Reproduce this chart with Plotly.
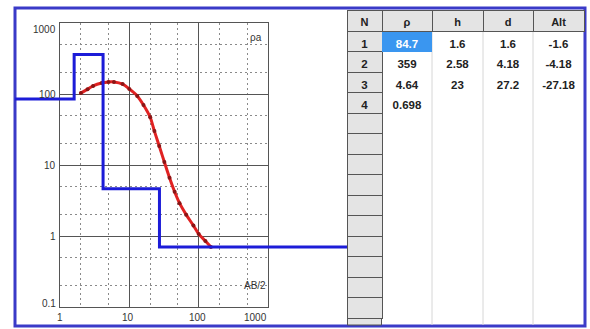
import math
import plotly.graph_objects as go

# ---------------- data ----------------
# measured apparent resistivity curve (AB/2 in m, rho_a in ohm.m)
ab2 = [2, 2.5, 3, 4, 5, 6, 8, 10, 13, 16, 20, 23, 27, 32, 38, 45, 53, 66, 84, 100, 125, 150]
rho_a = [103, 117, 130, 143, 148, 148, 138, 118, 94, 70, 47, 30, 18.5, 11, 6.6, 4.2, 2.9, 2.0, 1.4, 1.07, 0.85, 0.70]

# layered model
layer_n = [1, 2, 3, 4]
layer_rho = [84.7, 359, 4.64, 0.698]
layer_h = [1.6, 2.58, 23]
layer_d = [1.6, 4.18, 27.2]
layer_alt = [-1.6, -4.18, -27.18]

table_header = ["N", "ρ", "h", "d", "Alt"]
n_rows = 14

x_ticks = [1, 10, 100, 1000]
x_tick_text = ["1", "10", "100", "1000"]
y_ticks = [0.1, 1, 10, 100, 1000]
y_tick_text = ["0.1", "1", "10", "100", "1000"]
x_minor = [2, 5, 20, 50, 200, 500]
y_minor = [0.2, 0.5, 2, 5, 20, 50, 200, 500]

# ---------------- layout geometry ----------------
W, H = 590, 329
PL, PR, PT, PB = 60, 268, 23, 307      # plot area (px)
ML, MR = 15, 347                        # model-line area (px)
TL, TR, TT, TB = 347, 584, 10, 326      # table area (px)

def fx(px):
    return px / W

def fy(py):
    return 1 - py / H

scale = (PR - PL) / 3.0                  # px per decade on x
r0 = (ML - PL) / scale
r1 = (MR - PL) / scale

FONT = "Liberation Sans, Arial, sans-serif"

fig = go.Figure()

# apparent resistivity curve
fig.add_trace(go.Scatter(
    x=ab2, y=rho_a, mode="lines+markers",
    line=dict(color="#e02222", width=3, shape="spline"),
    marker=dict(size=4, color="#8a1515"),
    xaxis="x", yaxis="y", hoverinfo="skip", showlegend=False))

# model step line (on a wider, matched-scale axis so it runs off the plot)
step_x = [10 ** r0] + layer_d + [10 ** r1]
step_y = layer_rho + [layer_rho[-1]]
fig.add_trace(go.Scatter(
    x=step_x, y=step_y, mode="lines",
    line=dict(color="#1c1cd8", width=3, shape="hv"),
    xaxis="x2", yaxis="y2", hoverinfo="skip", showlegend=False))

# ---------------- table ----------------
def col(vals):
    return [str(v) for v in vals] + [""] * (n_rows - len(vals))

cells = [col(layer_n), col(layer_rho), col(layer_h), col(layer_d), col(layer_alt)]
clear = "rgba(0,0,0,0)"
fill_cols = [
    ["#e4e4e4"] * n_rows,
    ["#3a96f0"] + [clear] * (n_rows - 1),
    [clear] * n_rows, [clear] * n_rows, [clear] * n_rows,
]
font_cols = [
    ["#222222"] * n_rows,
    ["#ffffff"] + ["#222222"] * (n_rows - 1),
    ["#222222"] * n_rows, ["#222222"] * n_rows, ["#222222"] * n_rows,
]
fig.add_trace(go.Table(
    domain=dict(x=[fx(TL), fx(TR)], y=[fy(TB), fy(TT)]),
    columnwidth=[35, 50, 51, 50, 51],
    header=dict(values=table_header, height=21, fill=dict(color="#e4e4e4"),
                line=dict(color="#555555", width=1), align="center",
                font=dict(family=FONT, size=11, color="#222222", weight="bold")),
    cells=dict(values=cells, height=20.5, fill=dict(color=fill_cols),
               line=dict(color=["#555555", clear, clear, clear, clear], width=1),
               align="center",
               font=dict(family=FONT, size=11.5, color=font_cols, weight="bold")),
))

# ---------------- axes ----------------
fig.update_layout(
    width=W, height=H, autosize=False,
    margin=dict(l=0, r=0, t=0, b=0),
    paper_bgcolor="white", plot_bgcolor="rgba(0,0,0,0)",
    showlegend=False,
    xaxis=dict(domain=[fx(PL), fx(PR)], type="log", range=[0, 3],
               tickmode="array", tickvals=x_ticks, showticklabels=False, ticks="",
               showgrid=True, gridcolor="#555555", gridwidth=1,
               minor=dict(tickmode="array", tickvals=x_minor, showgrid=True,
                          gridcolor="#8a8a8a", griddash="2px,3px", gridwidth=1, ticks=""),
               showline=True, linecolor="#555555", linewidth=1, mirror=True,
               zeroline=False, fixedrange=True, anchor="y"),
    yaxis=dict(domain=[fy(PB), fy(PT)], type="log", range=[-1, 3],
               tickmode="array", tickvals=y_ticks, showticklabels=False, ticks="",
               showgrid=True, gridcolor="#555555", gridwidth=1,
               minor=dict(tickmode="array", tickvals=y_minor, showgrid=True,
                          gridcolor="#8a8a8a", griddash="2px,3px", gridwidth=1, ticks=""),
               showline=True, linecolor="#555555", linewidth=1, mirror=True,
               zeroline=False, fixedrange=True, anchor="x"),
    xaxis2=dict(domain=[fx(ML), fx(MR)], type="log", range=[r0, r1],
                visible=False, anchor="y2", fixedrange=True),
    yaxis2=dict(domain=[fy(PB), fy(PT)], type="log", range=[-1, 3],
                visible=False, anchor="x2", fixedrange=True),
)

# ---------------- decorations ----------------
shapes = [
    # outer blue frame
    dict(type="rect", xref="paper", yref="paper", x0=fx(15), x1=fx(585),
         y0=fy(326), y1=fy(8), line=dict(color="#3a3ac8", width=3), layer="below"),
    # partial N button at the bottom of the table
    dict(type="rect", xref="paper", yref="paper", x0=fx(347.5), x1=fx(381.5),
         y0=fy(325), y1=fy(318.5), fillcolor="#e4e4e4",
         line=dict(color="#555555", width=1), layer="below"),
]
for sx in [432, 483, 533]:
    shapes.append(dict(type="line", xref="paper", yref="paper", x0=fx(sx), x1=fx(sx),
                       y0=fy(325), y1=fy(31), line=dict(color="#d6d6d6", width=1),
                       layer="below"))
fig.update_layout(shapes=shapes)

ann = []
LBL = dict(family=FONT, size=10, color="#333333")
yshift = {1000: -6, 0.1: 4}
for v, t in zip(y_ticks, y_tick_text):
    ann.append(dict(text=t, xref="paper", x=fx(58), xanchor="right",
                    yref="y", y=math.log10(v), yanchor="middle", yshift=yshift.get(v, 0),
                    showarrow=False, font=LBL))
xshift = {1000: -13, 10: -1, 100: -1}
for v, t in zip(x_ticks, x_tick_text):
    ann.append(dict(text=t, xref="x", x=math.log10(v), xanchor="center", xshift=xshift.get(v, 0),
                    yref="paper", y=fy(317), yanchor="middle",
                    showarrow=False, font=LBL))
ann.append(dict(text="ρa", xref="paper", x=fx(256), yref="paper", y=fy(30),
                showarrow=False, font=LBL))
ann.append(dict(text="AB/2", xref="paper", x=fx(255), yref="paper", y=fy(293),
                showarrow=False, font=LBL))
fig.update_layout(annotations=ann)

fig.write_html("out.html", config={"displayModeBar": False},
               post_script="document.body.style.margin='0';document.body.style.overflow='hidden';")
